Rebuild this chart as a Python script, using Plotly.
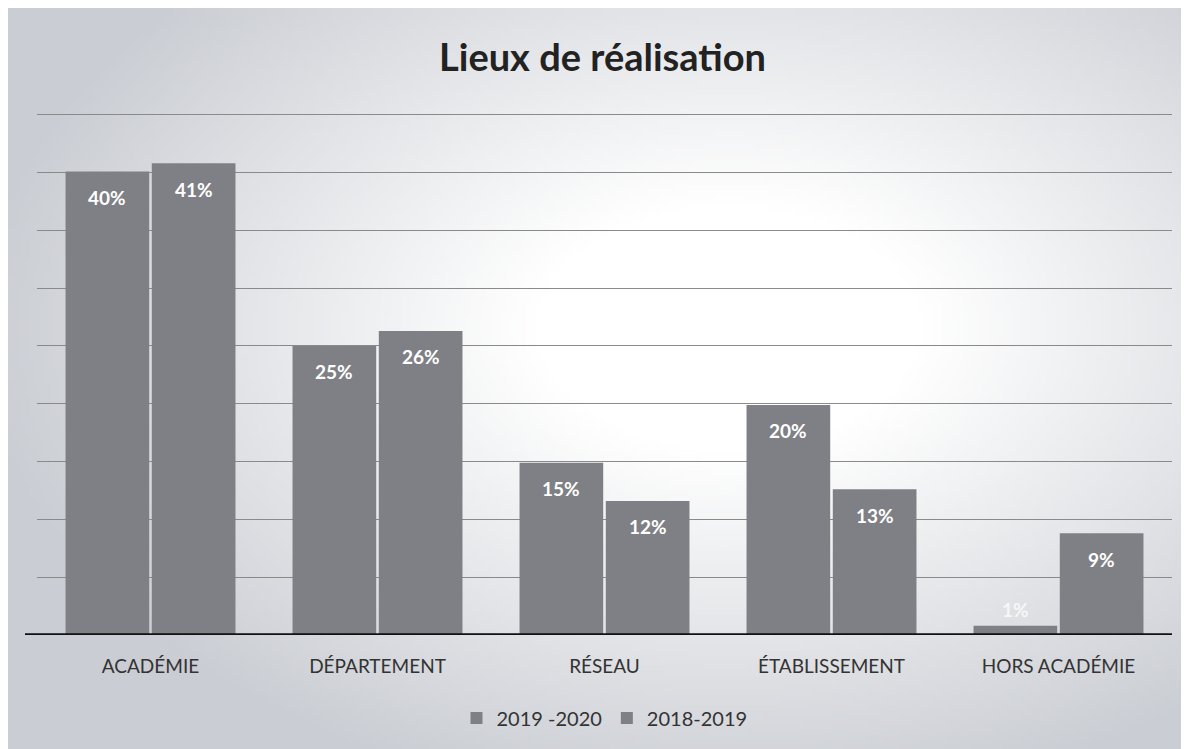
import zlib, struct, base64
import numpy as np
import plotly.graph_objects as go

categories = ["ACADÉMIE", "DÉPARTEMENT", "RÉSEAU", "ÉTABLISSEMENT", "HORS ACADÉMIE"]
series_names = ["2019 -2020", "2018-2019"]
values_2019_2020 = [40.1, 25.0, 14.9, 19.9, 0.8]
values_2018_2019 = [40.8, 26.3, 11.6, 12.6, 8.8]
labels_2019_2020 = ["40%", "25%", "15%", "20%", "1%"]
labels_2018_2019 = ["41%", "26%", "12%", "13%", "9%"]

W_PX, H_PX = 1189, 749
ML, MR, MT, MB = 29, 25, 105, 122
pw = W_PX - ML - MR
ph = H_PX - MT - MB
BARGAP = 0.24
Y_MAX = 45.15

# ---- background radial gradient (styling only) ----
def make_bg(w=240, h=150):
    xs = (np.arange(w) + 0.5) * W_PX / w
    ys = (np.arange(h) + 0.5) * H_PX / h
    U, V = np.meshgrid(xs, ys)
    cx, cy, rx, ry = 720, 320, 700, 450
    d = np.sqrt(((U - cx) / rx) ** 2 + ((V - cy) / ry) ** 2)
    t = np.clip((d - 0.28) / 0.8, 0, 1)
    edge = np.array([202, 205, 211], dtype=float)
    col = 255 * (1 - t[..., None]) + edge * t[..., None]
    return col.astype(np.uint8)

def png_bytes(arr):
    h, w, _ = arr.shape
    raw = b"".join(b"\x00" + arr[y].tobytes() for y in range(h))
    def chunk(tag, data):
        return struct.pack(">I", len(data)) + tag + data + struct.pack(">I", zlib.crc32(tag + data) & 0xffffffff)
    return (b"\x89PNG\r\n\x1a\n"
            + chunk(b"IHDR", struct.pack(">IIBBBBB", w, h, 8, 2, 0, 0, 0))
            + chunk(b"IDAT", zlib.compress(raw, 9))
            + chunk(b"IEND", b""))

bg_uri = "data:image/png;base64," + base64.b64encode(png_bytes(make_bg())).decode()

bar_color = "#7f8085"
font_family = "Lato, 'Open Sans', sans-serif"

fig = go.Figure()
for name, vals in [(series_names[0], values_2019_2020), (series_names[1], values_2018_2019)]:
    fig.add_trace(go.Bar(x=categories, y=vals, name=name,
                         marker=dict(color=bar_color, line=dict(width=0))))

# data labels, placed at each bar's top via data coordinates
slot = pw / len(categories) * (1 - BARGAP) / 2
annotations = []
for si, (vals, labs) in enumerate([(values_2019_2020, labels_2019_2020),
                                    (values_2018_2019, labels_2018_2019)]):
    xs = (-0.5 if si == 0 else 0.5) * slot
    for c, v, lab in zip(categories, vals, labs):
        small = v < 3
        annotations.append(dict(
            x=c, y=v, xref="x", yref="y", text="<b>%s</b>" % lab, showarrow=False,
            xshift=xs, yshift=16 if small else -26, yanchor="middle",
            font=dict(size=19, family=font_family,
                      color="rgba(255,255,255,0.75)" if small else "white")))

fig.update_layout(
    width=W_PX, height=H_PX,
    margin=dict(l=ML, r=MR, t=MT, b=MB, pad=0),
    paper_bgcolor="rgba(0,0,0,0)", plot_bgcolor="rgba(0,0,0,0)",
    barmode="group", bargap=BARGAP, bargroupgap=0.03,
    title=dict(text="<b>Lieux de réalisation</b>", x=0.5, xanchor="center",
               y=1 - 50 / H_PX, yanchor="middle",
               font=dict(size=38, color="#222222", family=font_family)),
    font=dict(family=font_family, color="#333333"),
    showlegend=True,
    legend=dict(orientation="h", x=0.5, xanchor="center", y=-83 / ph, yanchor="middle",
                font=dict(size=20, color="#333333"), bgcolor="rgba(0,0,0,0)",
                itemwidth=30),
    images=[dict(source=bg_uri, xref="paper", yref="paper",
                 x=-ML / pw, y=1 + MT / ph, sizex=W_PX / pw, sizey=H_PX / ph,
                 xanchor="left", yanchor="top", sizing="stretch", layer="below")],
    annotations=annotations,
    shapes=[dict(type="line", xref="paper", yref="y", x0=-12 / pw, x1=1, y0=0, y1=0,
                 line=dict(color="#111111", width=3.5), layer="above")],
)
fig.update_xaxes(showline=False, tickfont=dict(size=19, color="#333333"), ticks="",
                 showgrid=False, ticklabelstandoff=18)
fig.update_yaxes(range=[0, Y_MAX], dtick=5, showticklabels=False, showgrid=True,
                 gridcolor="#8a8a8a", gridwidth=1, zeroline=False, showline=False)

fig.write_html("out.html")
